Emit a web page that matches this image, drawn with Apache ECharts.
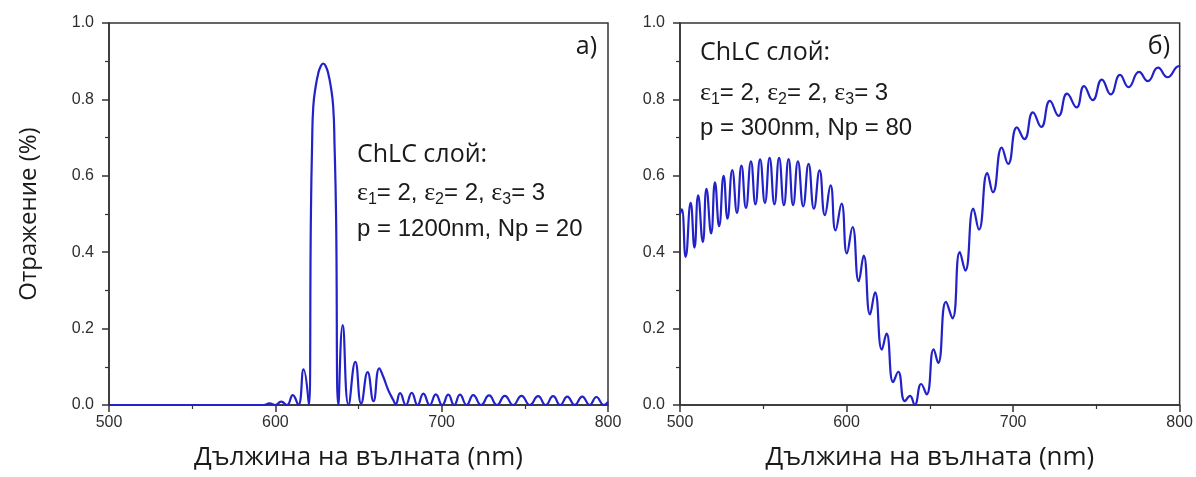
<!DOCTYPE html>
<html>
<head>
<meta charset="utf-8">
<title>ChLC reflection spectra</title>
<script src="https://cdn.jsdelivr.net/npm/echarts@6.0.0/dist/echarts.min.js"></script>
<style>
  html, body { margin: 0; padding: 0; background: #ffffff; }
  #chart { width: 1196px; height: 477px; }
</style>
</head>
<body>
<div id="chart"></div>
<script>
// Panel а): p = 1200 nm, Np = 20 — wavelength (nm) and reflectance
const wavelengthA = [500, 530, 560, 585, 593, 596.5, 600, 603.5, 607, 610.5,
  613.8, 617, 620.2, 621.4, 622.1, 622.8, 624.3, 625.8, 627.3, 628.8,
  630.3, 631.8, 633.3, 634.8, 635.6, 636.5, 637.9, 640.5, 644, 648.1,
  651.6, 655.5, 659, 662.5, 664.9, 667.9, 670.9, 672.3, 675, 678.5,
  682, 685.5, 689, 692.8, 696.5, 700.3, 704, 707.5, 711, 715,
  719, 723.7, 728.5, 733.2, 738, 743, 748, 753, 758, 762.5,
  767, 771.3, 775.5, 780, 784.5, 789, 793, 797.5, 800];
const reflectA = [0, 0, 0, 0, 0, 0.004, 0, 0.009, 0, 0.026,
  0, 0.093, 0, 0.5, 0.68, 0.78, 0.835, 0.868, 0.887, 0.894,
  0.887, 0.868, 0.835, 0.78, 0.68, 0.5, 0, 0.209, 0, 0.113,
  0.004, 0.086, 0.01, 0.096, 0.074, 0.039, 0.013, 0.002, 0.031, 0,
  0.032, 0, 0.03, 0, 0.028, 0, 0.027, 0, 0.027, 0,
  0.026, 0, 0.025, 0, 0.024, 0, 0.024, 0, 0.023, 0,
  0.023, 0, 0.022, 0, 0.022, 0, 0.021, 0, 0.008];

// Panel б): p = 300 nm, Np = 80 — wavelength (nm) and reflectance
const wavelengthB = [500, 501.1, 503.4, 506.4, 508.7, 510.9, 513.7, 515.9, 518.7, 521.0,
  523.5, 526.2, 528.5, 531.4, 534.2, 536.9, 539.6, 542.6, 545.3, 548.1,
  551.0, 553.8, 556.7, 559.5, 562.4, 565.2, 567.9, 570.8, 574.0, 577.2,
  580.4, 583.8, 587.0, 590.4, 593.4, 597.0, 600.2, 603.6, 607.3, 610.3,
  614.1, 617.1, 621.2, 624.0, 628.0, 631.0, 635.0, 638.1, 640.9, 644.8,
  648.1, 652.3, 655.0, 659.7, 663.6, 668.0, 671.3, 676.1, 679.5, 684.5,
  687.9, 693.2, 697.0, 702.3, 706.8, 711.9, 716.9, 722.1, 727.3, 732.4,
  738.1, 742.6, 747.8, 753.3, 758.6, 764.2, 769.3, 775.6, 780.9, 787.0,
  792.7, 799.6, 800];
const reflectB = [0.50, 0.512, 0.388, 0.529, 0.412, 0.549, 0.427, 0.566, 0.449, 0.583,
  0.468, 0.600, 0.488, 0.615, 0.503, 0.627, 0.516, 0.638, 0.525, 0.643,
  0.529, 0.647, 0.525, 0.647, 0.523, 0.644, 0.523, 0.638, 0.520, 0.631,
  0.514, 0.614, 0.497, 0.575, 0.457, 0.527, 0.397, 0.466, 0.324, 0.391,
  0.237, 0.295, 0.145, 0.187, 0.060, 0.087, 0.010, 0.024, 0.0, 0.055,
  0.028, 0.146, 0.110, 0.270, 0.227, 0.400, 0.352, 0.514, 0.459, 0.607,
  0.557, 0.674, 0.631, 0.727, 0.696, 0.766, 0.728, 0.796, 0.757, 0.815,
  0.779, 0.835, 0.798, 0.852, 0.813, 0.864, 0.832, 0.872, 0.848, 0.883,
  0.858, 0.887, 0.885];

// Axis ranges and steps
const xRange = [500, 800];
const xStep = 100;
const yRange = [0, 1];
const yStep = 0.2;

const xTitle = 'Дължина на вълната (nm)';
const yTitle = 'Отражение (%)';
const panelTags = ['а)', 'б)'];
const layerTitle = 'ChLC слой:';
const paramLines = ['p = 1200nm, Np = 20', 'p = 300nm, Np = 80'];

const zip = (xs, ys) => xs.map((x, i) => [x, ys[i]]);

const AXIS_COLOR = '#333333';
const LABEL_COLOR = '#2e2e2e';
const LINE_COLOR = '#2222c8';
const TEXT_COLOR = '#1a1a1a';
const HUMANIST = '"Open Sans", "Noto Sans", sans-serif';
const ARIAL = '"Liberation Sans", Arial, sans-serif';

function xAxisFor(grid) {
  return {
    type: 'value', gridIndex: grid,
    min: xRange[0], max: xRange[1], interval: xStep,
    name: xTitle, nameLocation: 'middle', nameGap: 40,
    nameTextStyle: { fontFamily: HUMANIST, fontSize: 26, color: TEXT_COLOR },
    axisLine: { show: true, lineStyle: { color: AXIS_COLOR, width: 1.5 } },
    axisTick: { show: true, length: 7, lineStyle: { color: AXIS_COLOR, width: 1.5 } },
    minorTick: { show: true, splitNumber: 2, length: 4, lineStyle: { color: AXIS_COLOR, width: 1.2 } },
    axisLabel: { margin: 10, fontFamily: ARIAL, fontSize: 16, color: LABEL_COLOR,
      formatter: v => String(Math.round(v)) },
    splitLine: { show: false }
  };
}

function yAxisFor(grid, withTitle) {
  return {
    type: 'value', gridIndex: grid,
    min: yRange[0], max: yRange[1], interval: yStep,
    name: withTitle ? yTitle : '', nameLocation: 'middle', nameGap: 68, nameRotate: 90,
    nameTextStyle: { fontFamily: HUMANIST, fontSize: 24, color: TEXT_COLOR },
    axisLine: { show: true, lineStyle: { color: AXIS_COLOR, width: 1.5 } },
    axisTick: { show: true, length: 7, lineStyle: { color: AXIS_COLOR, width: 1.5 } },
    minorTick: { show: true, splitNumber: 2, length: 4, lineStyle: { color: AXIS_COLOR, width: 1.2 } },
    axisLabel: { margin: 15, fontFamily: ARIAL, fontSize: 16, color: LABEL_COLOR,
      formatter: v => v.toFixed(1) },
    splitLine: { show: false }
  };
}

function lineSeries(idx, xs, ys) {
  return {
    type: 'line', xAxisIndex: idx, yAxisIndex: idx,
    data: zip(xs, ys),
    smooth: 0.5, showSymbol: false, silent: true,
    lineStyle: { color: LINE_COLOR, width: 2.2 },
    clip: true
  };
}

// Parameter block: ε1 = 2, ε2 = 2, ε3 = 3 with subscripts
const epsRich = {
  t: { fontFamily: ARIAL, fontSize: 24, lineHeight: 30, fill: TEXT_COLOR, color: TEXT_COLOR },
  e: { fontFamily: '"Liberation Serif", serif', fontSize: 26, lineHeight: 30, fill: TEXT_COLOR, color: TEXT_COLOR },
  s: { fontFamily: ARIAL, fontSize: 16, lineHeight: 16, verticalAlign: 'bottom', fill: TEXT_COLOR, color: TEXT_COLOR }
};
const epsText = '{e|ε}{s|1}{t|= 2, }{e|ε}{s|2}{t|= 2, }{e|ε}{s|3}{t|= 3}';

function annotation(x, yTitleLine, yEps, yParam, paramText) {
  return [
    { type: 'text', x: x, y: yTitleLine, silent: true,
      style: { text: layerTitle, font: '25px ' + HUMANIST, fill: TEXT_COLOR, align: 'left', verticalAlign: 'middle' } },
    { type: 'text', x: x, y: yEps, silent: true,
      style: { text: epsText, rich: epsRich, font: '24px ' + ARIAL, fill: TEXT_COLOR, align: 'left', verticalAlign: 'middle' } },
    { type: 'text', x: x, y: yParam, silent: true,
      style: { text: paramText, font: '24px ' + ARIAL, fill: TEXT_COLOR, align: 'left', verticalAlign: 'middle' } }
  ];
}

const chart = echarts.init(document.getElementById('chart'), null, { renderer: 'canvas' });

chart.setOption({
  animation: false,
  backgroundColor: '#ffffff',
  grid: [
    { left: 109, top: 23, width: 499, height: 382, show: true, borderColor: AXIS_COLOR, borderWidth: 1.5, backgroundColor: 'transparent' },
    { left: 680, top: 23, width: 500, height: 382, show: true, borderColor: AXIS_COLOR, borderWidth: 1.5, backgroundColor: 'transparent' }
  ],
  xAxis: [xAxisFor(0), xAxisFor(1)],
  yAxis: [yAxisFor(0, true), yAxisFor(1, false)],
  series: [
    lineSeries(0, wavelengthA, reflectA),
    lineSeries(1, wavelengthB, reflectB)
  ],
  graphic: [
    ...annotation(357, 155, 193, 229, paramLines[0]),
    ...annotation(700, 53, 93, 128, paramLines[1]),
    { type: 'text', x: 597, y: 47, silent: true,
      style: { text: panelTags[0], font: '25px ' + HUMANIST, fill: TEXT_COLOR, align: 'right', verticalAlign: 'middle' } },
    { type: 'text', x: 1170, y: 47, silent: true,
      style: { text: panelTags[1], font: '25px ' + HUMANIST, fill: TEXT_COLOR, align: 'right', verticalAlign: 'middle' } }
  ]
});
</script>
</body>
</html>
